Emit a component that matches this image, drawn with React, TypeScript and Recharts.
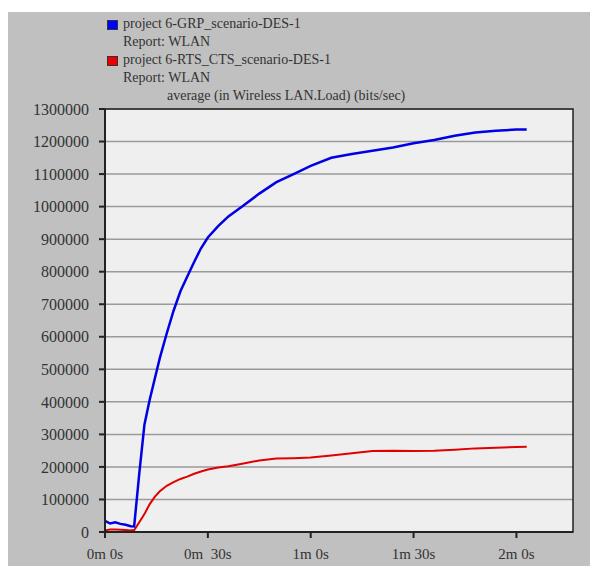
import React from 'react';
import {
  LineChart,
  Line,
  XAxis,
  YAxis,
  CartesianGrid,
  ReferenceArea,
} from 'recharts';

/* ---------------------------------------
   DATA
---------------------------------------- */
const timeSec = [
  0, 1.5, 3, 4.5, 6, 7.5, 8.5, 10, 11.5, 13, 14.5, 16, 18, 20, 22, 24, 26, 28,
  30, 33, 36, 40, 45, 50, 55, 60, 66, 72, 78, 84, 90, 96, 102, 108, 114, 120,
  123,
];

const grpLoad = [
  34000, 26000, 30000, 25000, 22000, 18000, 17000, 180000, 330000, 405000,
  470000, 535000, 610000, 680000, 740000, 785000, 830000, 872000, 905000,
  940000, 970000, 1000000, 1040000, 1075000, 1100000, 1125000, 1150000,
  1162000, 1172000, 1182000, 1195000, 1205000, 1218000, 1228000, 1233000,
  1237000, 1237000,
];

const rtsLoad = [
  5000, 8000, 8000, 7000, 6000, 5000, 5000, 30000, 55000, 85000, 108000,
  125000, 142000, 153000, 163000, 170000, 179000, 186000, 192000, 198000,
  202000, 210000, 220000, 226000, 227000, 229000, 235000, 242000, 249000,
  250000, 249000, 250000, 253000, 257000, 259000, 261000, 262000,
];

const yTicks = [
  0, 100000, 200000, 300000, 400000, 500000, 600000, 700000, 800000, 900000,
  1000000, 1100000, 1200000, 1300000,
];
const xTicks = [0, 30, 60, 90, 120];
const xTickLabels = ['0m 0s', '0m  30s', '1m 0s', '1m 30s', '2m 0s'];

const legendLines = [
  { text: 'project 6-GRP_scenario-DES-1', color: '#0000ff' },
  { text: 'Report: WLAN' },
  { text: 'project 6-RTS_CTS_scenario-DES-1', color: '#ee0000' },
  { text: 'Report: WLAN' },
  { text: 'average (in Wireless LAN.Load) (bits/sec)', indent: true },
];

const chartData = timeSec.map((t, i) => ({
  t,
  grp: grpLoad[i],
  rts: rtsLoad[i],
}));

const FONT = "'Times New Roman', Times, 'Liberation Serif', 'DejaVu Serif', serif";

/* ---------------------------------------
   X TICK (keeps the double space)
---------------------------------------- */
function XTick(props: any) {
  const { x, y, payload } = props;
  const idx = xTicks.indexOf(payload.value);
  return (
    <text
      x={x}
      y={y}
      dy="0.71em"
      textAnchor="middle"
      fill="#333"
      fontSize={15}
      style={{ whiteSpace: 'pre', fontFamily: FONT }}
    >
      {idx >= 0 ? xTickLabels[idx] : ''}
    </text>
  );
}

/* ---------------------------------------
   Y TICK
---------------------------------------- */
function YTick(props: any) {
  const { x, y, payload } = props;
  return (
    <text
      x={x}
      y={y}
      dy="0.355em"
      textAnchor="end"
      fill="#333"
      fontSize={16}
      style={{ fontFamily: FONT }}
    >
      {payload.value}
    </text>
  );
}

export default function App() {
  return (
    <div
      style={{
        position: 'relative',
        width: 590,
        height: 554,
        marginTop: 4,
        background: '#c0c0c0',
        fontFamily: FONT,
      }}
    >
      {/* Legend */}
      <div
        style={{
          position: 'absolute',
          left: 99,
          top: 3,
          fontFamily: FONT,
          fontSize: 14,
          lineHeight: '18px',
          color: '#333',
        }}
      >
        {legendLines.map((l, i) => (
          <div
            key={i}
            style={{
              display: 'flex',
              alignItems: 'center',
              whiteSpace: 'pre',
              paddingLeft: l.indent ? 60 : 16,
              position: 'relative',
            }}
          >
            {l.color && (
              <span
                style={{
                  position: 'absolute',
                  left: 0,
                  top: 5,
                  width: 9,
                  height: 8,
                  background: l.color,
                  border: '1px solid #333',
                }}
              />
            )}
            {l.text}
          </div>
        ))}
      </div>

      <LineChart
        width={590}
        height={554}
        data={chartData}
        margin={{ top: 97, right: 25, left: 0, bottom: 0 }}
        style={{ fontFamily: FONT }}
      >
        <CartesianGrid
          vertical={false}
          stroke="#9a9a9a"
          strokeWidth={1.5}
          fill="#efefef"
          fillOpacity={1}
        />
        <XAxis
          type="number"
          dataKey="t"
          domain={[0, 136.5]}
          ticks={xTicks}
          height={34}
          axisLine={{ stroke: '#222', strokeWidth: 2 }}
          tickLine={{ stroke: '#222', strokeWidth: 2 }}
          tickSize={6}
          tickMargin={10}
          tick={<XTick />}
        />
        <YAxis
          type="number"
          domain={[0, 1300000]}
          ticks={yTicks}
          width={97}
          interval={0}
          axisLine={{ stroke: '#222', strokeWidth: 2 }}
          tickLine={{ stroke: '#222', strokeWidth: 2 }}
          tickSize={6}
          tickMargin={10}
          tick={<YTick />}
        />
        <ReferenceArea
          x1={0}
          x2={136.5}
          y1={0}
          y2={1300000}
          fill="none"
          stroke="#222"
          strokeWidth={1.5}
        />
        <Line
          dataKey="rts"
          stroke="#e00000"
          strokeWidth={2}
          dot={false}
          isAnimationActive={false}
        />
        <Line
          dataKey="grp"
          stroke="#0000e6"
          strokeWidth={2.5}
          dot={false}
          isAnimationActive={false}
        />
      </LineChart>
    </div>
  );
}
